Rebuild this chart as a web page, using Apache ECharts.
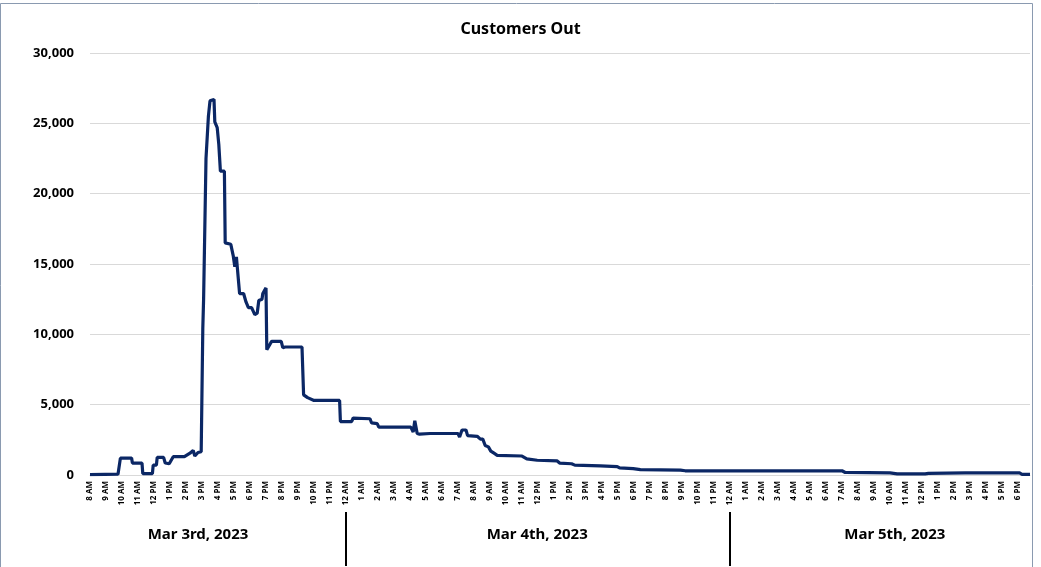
<!DOCTYPE html>
<html>
<head>
<meta charset="utf-8">
<title>Customers Out</title>
<script src="https://cdn.jsdelivr.net/npm/echarts@6/dist/echarts.min.js"></script>
<style>
  html, body { margin: 0; padding: 0; background: #fff; }
  .chart { width: 1041px; height: 567px; }
</style>
</head>
<body>
<div class="chart"></div>
<script>
// hours since 8 AM, Mar 3rd
const hours = [
  0, 0.94, 1.75, 1.9, 2.6, 2.65, 3.25, 3.3, 3.9, 3.95, 4.15, 4.2, 4.6, 4.7, 4.95, 5.05, 5.2,
  5.9, 6.25, 6.45, 6.55, 6.75, 6.95, 7.05, 7.1, 7.25, 7.4, 7.5, 7.75, 7.8, 7.95, 8.05, 8.15,
  8.4, 8.45, 8.8, 8.95, 9.05, 9.15, 9.25, 9.35, 9.6, 9.75, 9.9, 10.1, 10.3, 10.45, 10.55,
  10.75, 10.8, 11.0, 11.05, 11.25, 11.35, 11.95, 12.05, 12.2, 13.25, 13.35, 13.6, 14.0,
  15.6, 15.65, 16.35, 16.45, 17.5, 17.6, 17.95, 18.05, 20.05, 20.2, 20.3, 20.4, 20.45,
  20.6, 21.25, 23.0, 23.1, 23.25, 23.5, 23.6, 24.2, 24.4, 24.55, 24.7, 24.9, 25.05, 25.25,
  25.45, 27.0, 27.3, 27.95, 29.2, 29.35, 30.1, 30.3, 31.9, 32.95, 33.1, 33.95, 34.4, 36.9,
  37.2, 47.0, 47.2, 50.0, 50.45, 52.2, 52.4, 54.7, 58.1, 58.25, 58.75
]
const customersOut = [
  20, 50, 60, 1200, 1200, 850, 850, 100, 100, 700, 700, 1250, 1250, 850, 800, 750, 1300,
  1300, 1550, 1750, 1350, 1600, 1650, 10400, 12500, 22500, 25500, 26600, 26700, 25100, 24700, 23500, 21600,
  21600, 16500, 16400, 15600, 14800, 15500, 15400, 12900, 12900, 12300, 11900, 11900, 11400, 11500, 12400,
  12500, 12900, 13300, 8900, 9300, 9500, 9500, 9050, 9100, 9100, 5700, 5500, 5300,
  5300, 3800, 3800, 4050, 4000, 3700, 3650, 3400, 3400, 3050, 3850, 3850, 2950,
  2900, 2950, 2950, 2700, 3200, 3200, 2800, 2750, 2550, 2550, 2100, 2000, 1700, 1550,
  1400, 1350, 1150, 1050, 1000, 850, 800, 700, 650, 600, 500, 450, 380, 350,
  300, 300, 180, 150, 80, 80, 120, 150, 150, 50, 50
]
// x axis tick labels, one per hour
const hourLabels = [
  '8 AM', '9 AM', '10 AM', '11 AM', '12 PM', '1 PM', '2 PM', '3 PM', '4 PM', '5 PM', '6 PM', '7 PM',
  '8 PM', '9 PM', '10 PM', '11 PM',
  '12 AM', '1 AM', '2 AM', '3 AM', '4 AM', '5 AM', '6 AM', '7 AM', '8 AM', '9 AM', '10 AM', '11 AM',
  '12 PM', '1 PM', '2 PM', '3 PM', '4 PM', '5 PM', '6 PM', '7 PM', '8 PM', '9 PM', '10 PM', '11 PM',
  '12 AM', '1 AM', '2 AM', '3 AM', '4 AM', '5 AM', '6 AM', '7 AM', '8 AM', '9 AM', '10 AM', '11 AM',
  '12 PM', '1 PM', '2 PM', '3 PM', '4 PM', '5 PM', '6 PM'
]
// date groups under the hour labels (label centre hour, separator hour)
const dayNames = ['Mar 3rd, 2023', 'Mar 4th, 2023', 'Mar 5th, 2023']
const dayCenters = [6.75, 27.95, 50.3]
const daySplits = [16, 40]

;(function () {
  let myChart = echarts.init(document.querySelector('.chart'))
  let font = 'Noto Sans'
  let option = {
    animation: false,
    title: {
      text: 'Customers Out',
      left: 'center',
      top: 16,
      textStyle: { fontFamily: font, fontSize: 16, fontWeight: 'bold', color: '#000' }
    },
    grid: {
      left: 90,
      right: 11,
      top: 53,
      bottom: 92
    },
    xAxis: {
      type: 'value',
      min: 0,
      max: 58.75,
      interval: 1,
      axisLine: { lineStyle: { color: '#d9d9d9', width: 1 } },
      axisTick: { show: false },
      splitLine: { show: false },
      axisLabel: {
        rotate: 90,
        margin: 6,
        fontFamily: font,
        fontSize: 8,
        fontWeight: 'bold',
        color: '#000',
        showMaxLabel: false,
        formatter: function (v) {
          return Number.isInteger(v) && hourLabels[v] ? hourLabels[v] : ''
        }
      }
    },
    yAxis: {
      type: 'value',
      min: 0,
      max: 30000,
      interval: 5000,
      axisLine: { show: false },
      axisTick: { show: false },
      splitLine: { lineStyle: { color: '#d9d9d9' } },
      axisLabel: {
        margin: 16,
        fontFamily: font,
        fontSize: 13,
        fontWeight: 'bold',
        color: '#000',
        formatter: function (v) { return v.toLocaleString('en-US') }
      }
    },
    series: [
      {
        name: 'Customers Out',
        type: 'line',
        showSymbol: false,
        lineStyle: { color: '#0b2765', width: 3.2 },
        data: hours.map((h, i) => [h, customersOut[i]])
      }
    ]
  }
  myChart.setOption(option)

  // day labels and separators placed through the x axis scale
  let elements = [
    {
      type: 'rect',
      shape: { x: 0.5, y: 3.5, width: 1032, height: 580 },
      style: { fill: 'none', stroke: '#8a9ab0', lineWidth: 1 },
      silent: true
    }
  ]
  dayNames.forEach((name, i) => {
    elements.push({
      type: 'text',
      x: myChart.convertToPixel({ xAxisIndex: 0 }, dayCenters[i]),
      y: 535,
      style: {
        text: name,
        align: 'center',
        verticalAlign: 'middle',
        font: 'bold 15px "Noto Sans"',
        fill: '#000'
      }
    })
  })
  daySplits.forEach(h => {
    let x = Math.round(myChart.convertToPixel({ xAxisIndex: 0 }, h))
    elements.push({
      type: 'line',
      shape: { x1: x, y1: 512, x2: x, y2: 566 },
      style: { stroke: '#000', lineWidth: 2 }
    })
  })
  myChart.setOption({ graphic: elements })

  window.addEventListener('resize', function () {
    myChart.resize()
  })
})();
</script>
</body>
</html>
